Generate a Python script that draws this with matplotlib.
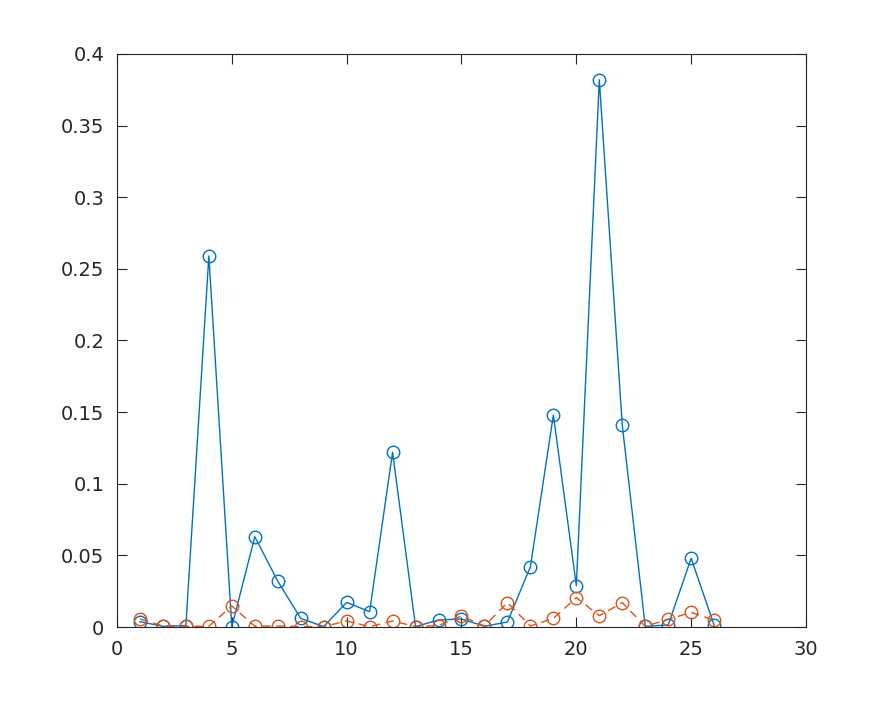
import matplotlib
matplotlib.use("Agg")
import matplotlib.pyplot as plt
import numpy as np

# values
x = list(range(1, 27))
blue = [0.0037, 0.0005, 0.0010, 0.259, 0.0002, 0.063, 0.032, 0.0060, 0.0003, 0.0172,
        0.0107, 0.122, 0.0003, 0.0049, 0.0056, 0.0005, 0.0035, 0.042, 0.148, 0.0289,
        0.382, 0.141, 0.0005, 0.0014, 0.048, 0.0012]
orange = [0.0056, 0.0007, 0.0005, 0.0005, 0.0147, 0.0005, 0.0007, 0.0003, 0.0003, 0.0042,
          0.0003, 0.0042, 0.0003, 0.0010, 0.0077, 0.0007, 0.0170, 0.0007, 0.0060, 0.0205,
          0.0079, 0.0170, 0.0005, 0.0053, 0.0102, 0.0047]

fig = plt.figure(figsize=(8.91, 7.03), dpi=100)
ax = fig.add_axes([0.1313, 0.1081, 0.7733, 0.8151])

ax.plot(x, blue, color=(0, 0.447, 0.741), linewidth=1.0, marker='o',
        markersize=9, markerfacecolor='none', markeredgewidth=1.0)
ax.plot(x, orange, color=(0.85, 0.325, 0.098), linewidth=1.0, linestyle=(0, (6, 4)),
        marker='o', markersize=9, markerfacecolor='none', markeredgewidth=1.0)

ax.set_xlim(0, 30)
ax.set_ylim(0, 0.4)
ax.set_xticks([0, 5, 10, 15, 20, 25, 30])
ax.set_yticks(np.arange(0, 0.41, 0.05))
ax.set_yticklabels(['0', '0.05', '0.1', '0.15', '0.2', '0.25', '0.3', '0.35', '0.4'])

ax.tick_params(direction='in', length=7, width=0.8, top=True, right=True,
               labelsize=14, colors='#262626', pad=9)
for s in ax.spines.values():
    s.set_linewidth(0.8)
    s.set_color('#262626')

fig.savefig("out.png", dpi=100)
